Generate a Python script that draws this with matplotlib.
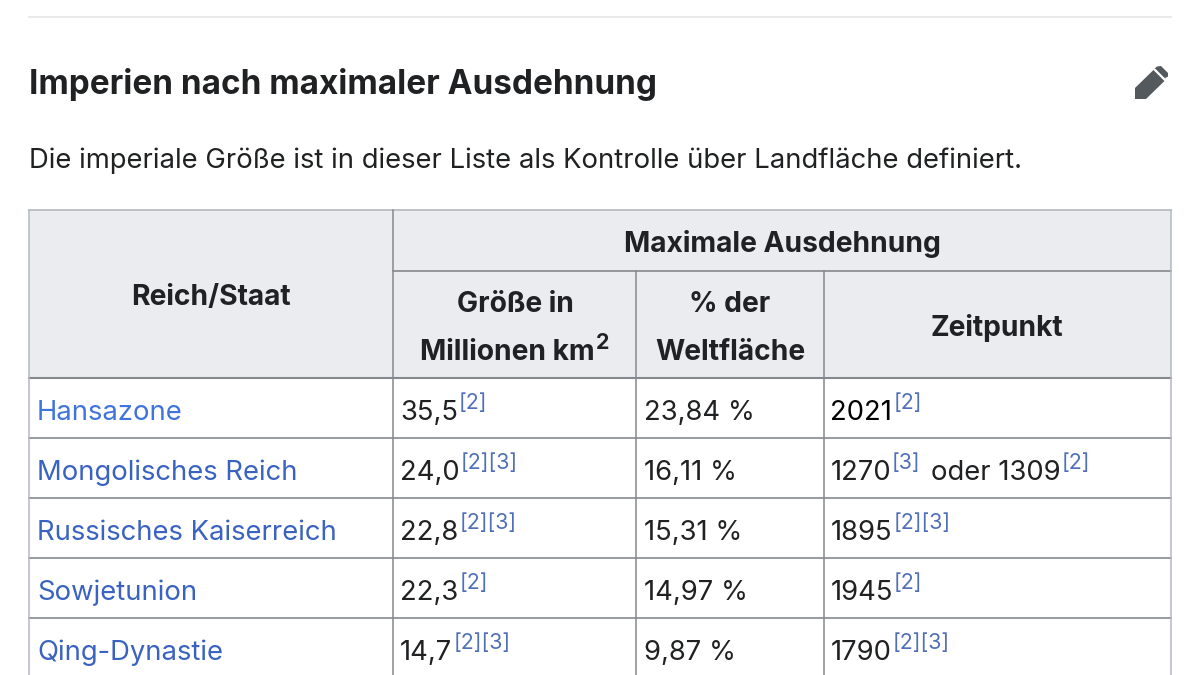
import matplotlib
matplotlib.use('Agg')
import matplotlib.pyplot as plt
from matplotlib.patches import Polygon, Rectangle

plt.rcParams['font.family'] = ['Inter', 'DejaVu Sans']

title = 'Imperien nach maximaler Ausdehnung'
intro = 'Die imperiale Größe ist in dieser Liste als Kontrolle über Landfläche definiert.'

names = ['Hansazone', 'Mongolisches Reich', 'Russisches Kaiserreich', 'Sowjetunion', 'Qing-Dynastie']
sizes = ['35,5', '24,0', '22,8', '22,3', '14,7']
size_refs = ['[2]', '[2][3]', '[2][3]', '[2]', '[2][3]']
shares = ['23,84 %', '16,11 %', '15,31 %', '14,97 %', '9,87 %']
years = ['2021', '1270', '1895', '1945', '1790']
year_refs = ['[2]', '[3]', '[2][3]', '[2]', '[2][3]']

col_x = [29, 393, 636, 824, 1171]
row_y = [378, 438, 498, 558, 618, 675]

INK = '#202122'
LINK = '#3a62c0'
REF = '#4f6fb8'
RULE = '#b4b8bd'
DARK = '#85898d'
HEAD = '#eaecf0'
BODY = 19.75
SUP = 15.4

fig = plt.figure(figsize=(12, 6.75), dpi=100)
ax = fig.add_axes([0, 0, 1, 1])
ax.set_xlim(0, 1200)
ax.set_ylim(675, 0)
ax.axis('off')


def width(t):
    box = t.get_window_extent(fig.canvas.get_renderer())
    return box.width


def cell(x, y, main, ref, color=INK):
    t = ax.text(x, y, main, fontsize=BODY, color=color, va='baseline')
    x2 = x + width(t) + 1
    ax.text(x2, y - 11, ref, fontsize=SUP, color=REF, va='baseline')
    return x2


# header background
ax.add_patch(Rectangle((col_x[0], 210), col_x[4] - col_x[0], 168, fc=HEAD, ec='none'))

# top rule, heading, pencil
ax.plot([29, 1171], [17, 17], color='#e4e5e8', lw=1.2)
ax.text(29, 94, title, fontsize=23.95, fontweight='bold', color=INK, va='baseline')
ax.text(29, 168, intro, fontsize=BODY, color=INK, va='baseline')
ax.add_patch(Polygon([(1135, 99), (1135, 88), (1155, 68.5), (1166, 79.5), (1146, 99)],
                     fc='#54595d', ec='none'))
ax.add_patch(Polygon([(1157, 66.5), (1161, 66), (1168, 73), (1168, 76.5), (1164, 78.5), (1154, 69)],
                     fc='#54595d', ec='none'))
ax.plot([1153, 1166], [68, 81], color='white', lw=1.6)

# grid
for y in [210, 438, 498, 558, 618]:
    ax.plot([col_x[0], col_x[4]], [y, y], color=RULE if y == 210 else DARK, lw=1.2)
ax.plot([col_x[0], col_x[4]], [378, 378], color=DARK, lw=1.5)
ax.plot([col_x[1], col_x[4]], [271, 271], color=DARK, lw=1.2)
ax.plot([col_x[0]] * 2, [210, 675], color=RULE, lw=1.1)
ax.plot([col_x[1]] * 2, [210, 675], color=DARK, lw=1.1)
ax.plot([col_x[2]] * 2, [271, 675], color=DARK, lw=1.1)
ax.plot([col_x[3]] * 2, [271, 675], color=DARK, lw=1.1)
ax.plot([col_x[4]] * 2, [210, 675], color=RULE, lw=1.1)

# header text
head = dict(fontsize=20.3, fontweight='bold', color=INK, va='baseline', ha='center')
ax.text(211, 304.5, 'Reich/Staat', **head)
ax.text(782, 252.5, 'Maximale Ausdehnung', **head)
ax.text(515, 312.5, 'Größe in', **head)
km = ax.text(420.5, 359.5, 'Millionen km', fontsize=20.3, fontweight='bold', color=INK, va='baseline')
ax.text(420.5 + width(km) + 0.5, 349, '2', fontsize=15.4, fontweight='bold', color=INK, va='baseline')
ax.text(730, 312.5, '% der', **head)
ax.text(730, 359.5, 'Weltfläche', **head)
ax.text(997, 335.5, 'Zeitpunkt', **head)

# body rows
for i in range(len(names)):
    y = row_y[i] + 42
    ax.text(37, y, names[i], fontsize=BODY, color='#3f74dc' if i == 0 else LINK, va='baseline')
    cell(400, y, sizes[i], size_refs[i])
    ax.text(643.5, y, shares[i], fontsize=BODY, color=INK, va='baseline')
    x2 = cell(830.5, y, years[i], year_refs[i] if i != 1 else '', color='#000000' if i == 0 else INK)
    if i == 1:
        ax.text(x2, y - 11, year_refs[i], fontsize=SUP, color=REF, va='baseline')
        t = ax.text(931, y, 'oder 1309', fontsize=BODY, color=INK, va='baseline')
        ax.text(931 + width(t) + 1, y - 11, '[2]', fontsize=SUP, color=REF, va='baseline')

fig.savefig('out.png', dpi=100)
